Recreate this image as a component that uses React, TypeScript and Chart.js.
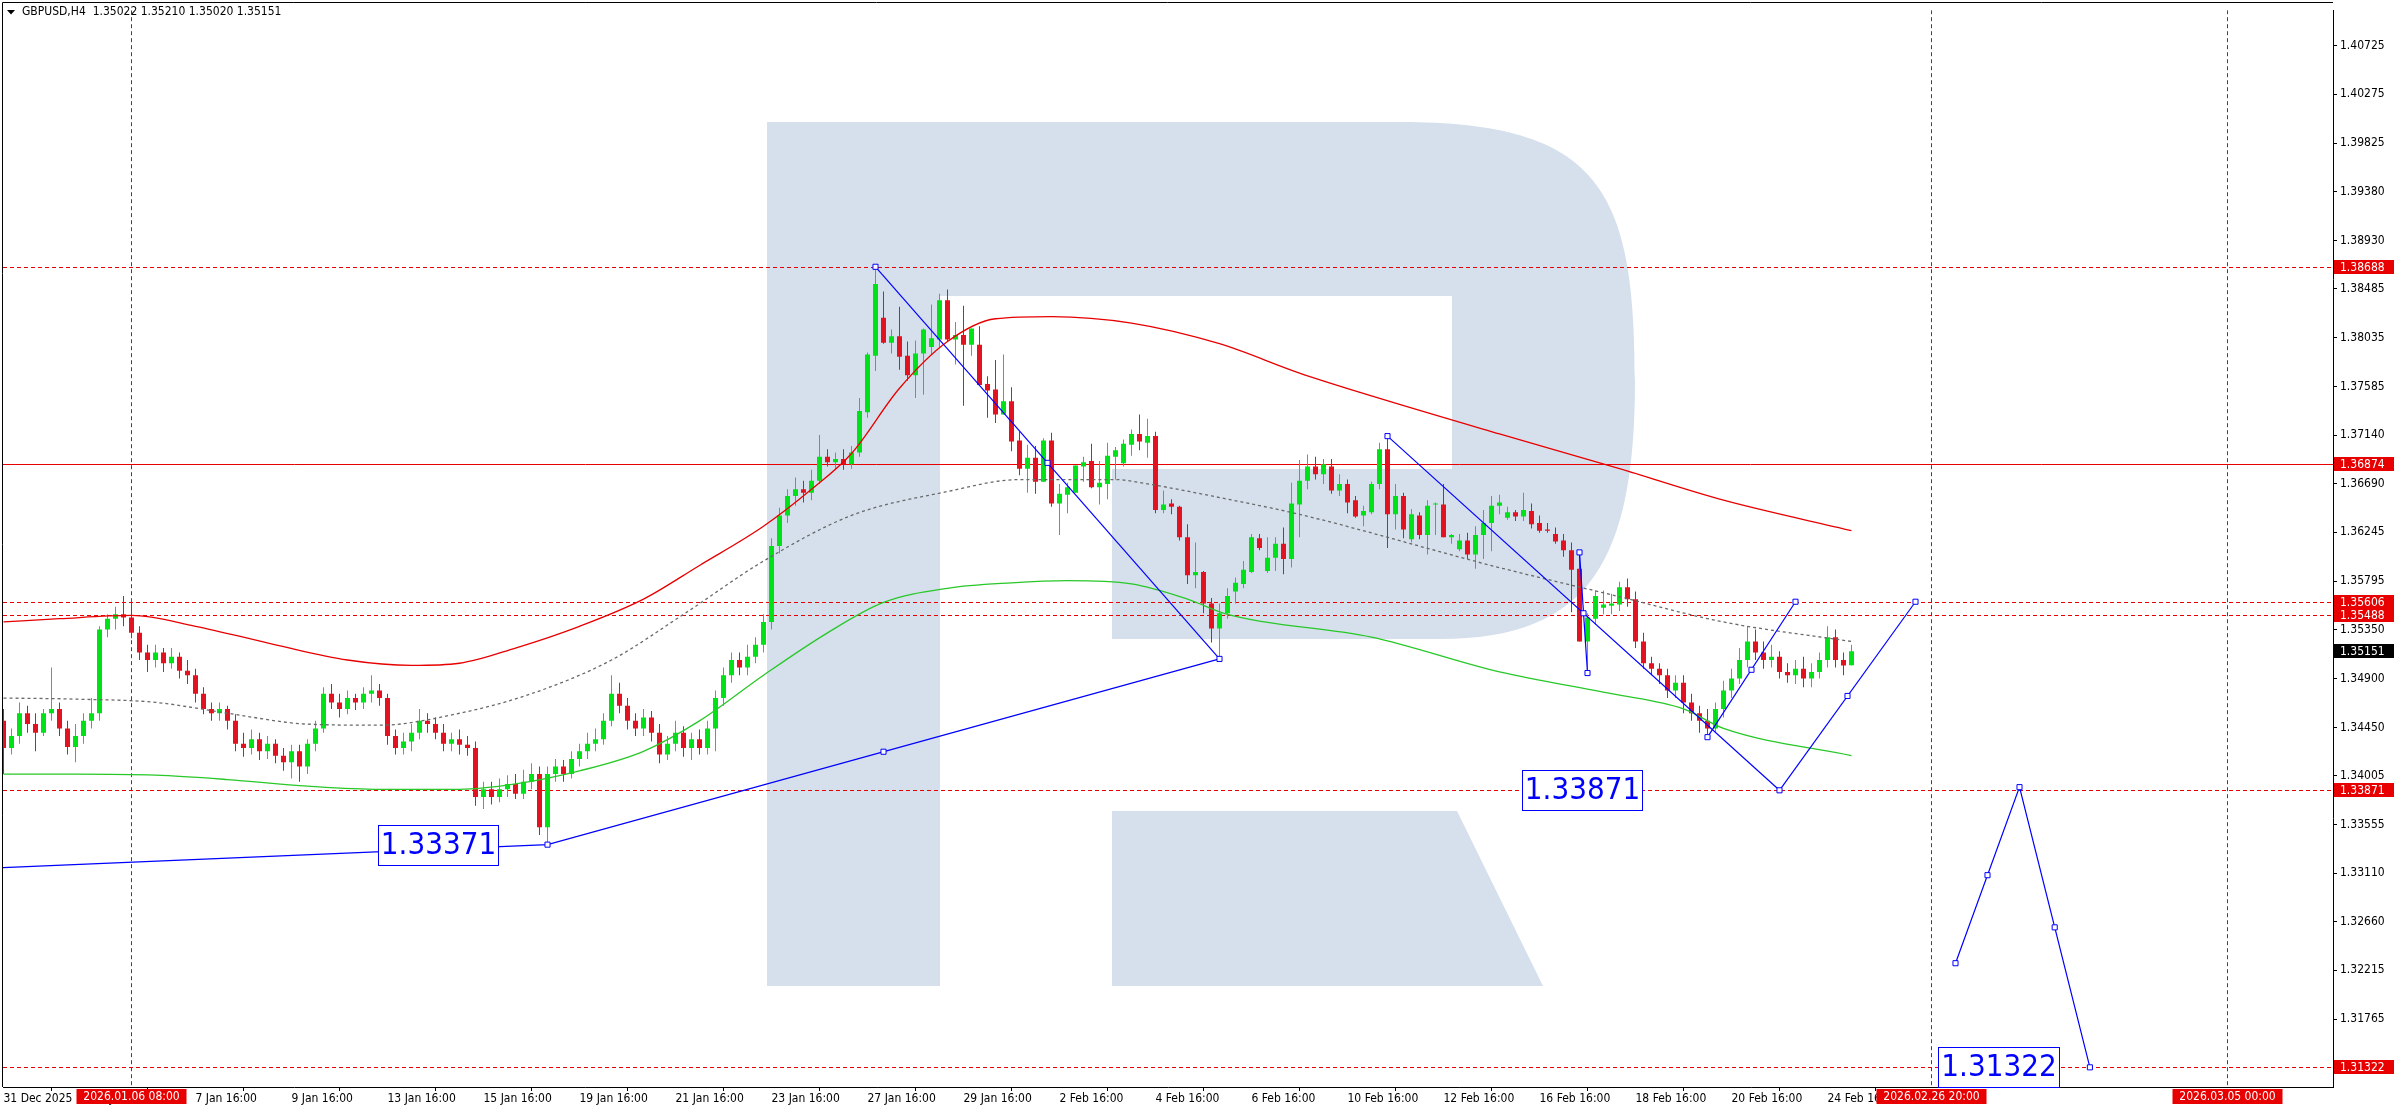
import React, { useEffect, useRef } from 'react';
import { Chart, registerables } from 'chart.js';

Chart.register(...registerables);

// ---------- DATA ----------
const opens = [
  1.3451,1.3426,1.3437,1.3458,1.3448,1.3440,1.3458,1.3462,1.3444,1.3427,1.3437,1.3451,
  1.3458,1.3535,1.3545,1.3549,1.3546,1.3532,1.3514,1.3507,1.3514,1.3504,1.3510,1.3497,
  1.3493,1.3476,1.3462,1.3458,1.3462,1.3451,1.3430,1.3426,1.3434,1.3423,1.3430,1.3419,
  1.3413,1.3423,1.3409,1.3430,1.3444,1.3476,1.3468,1.3462,1.3472,1.3468,1.3476,1.3479,
  1.3472,1.3437,1.3426,1.3432,1.3440,1.3451,1.3448,1.3440,1.3430,1.3434,1.3429,1.3426,
  1.3381,1.3388,1.3381,1.3388,1.3393,1.3384,1.3395,1.3402,1.3353,1.3402,1.3409,1.3402,
  1.3416,1.3423,1.3430,1.3434,1.3451,1.3476,1.3465,1.3451,1.3444,1.3454,1.3440,1.3420,
  1.3430,1.3440,1.3426,1.3434,1.3426,1.3444,1.3472,1.3493,1.3507,1.3500,1.3510,1.3521,
  1.3542,1.3612,1.3640,1.3658,1.3664,1.3661,
  1.3672,1.3694,1.3689,1.3692,1.3687,1.3698,1.3735,1.3787,1.3822,1.3799,1.3805,1.3787,
  1.3769,1.3789,1.3795,1.3802,1.3838,1.3802,1.3806,1.3797,1.3797,1.3761,1.3756,1.3733,
  1.3745,1.3709,1.3683,1.3693,1.3671,1.3709,1.3651,1.3659,1.3661,1.3685,1.3690,1.3666,
  1.3669,1.3694,1.3688,1.3705,1.3715,1.3707,1.3713,1.3645,1.3651,1.3648,1.3620,1.3585,
  1.3588,1.3559,1.3536,1.3550,1.3570,1.3577,1.3588,1.3619,1.3589,1.3601,1.3614,1.3600,
  1.3650,1.3672,1.3685,1.3678,1.3685,1.3663,1.3669,1.3654,1.3640,1.3643,1.3669,1.3701,
  1.3641,1.3658,1.3618,1.3640,1.3622,1.3650,1.3650,1.3620,1.3609,1.3617,1.3604,1.3622,
  1.3633,1.3649,1.3638,1.3643,1.3639,1.3644,1.3633,1.3627,1.3623,1.3617,1.3608,1.3591,
  1.3524,1.3545,1.3555,1.3557,1.3558,1.3574,1.3563,1.3524,1.3504,1.3499,1.3493,1.3479,
  1.3486,1.3468,1.3458,1.3451,1.3444,1.3462,1.3479,1.3490,1.3507,1.3524,1.3514,1.3507,
  1.3510,1.3496,1.3493,1.3499,1.3490,1.3496,1.3507,1.3528,1.3507,1.35022,
];
const highs = [
  1.3462,1.3444,1.3468,1.3465,1.3458,1.3462,1.3500,1.3468,1.3451,1.3448,1.3458,1.3472,
  1.3538,1.3549,1.3556,1.3566,1.3563,1.3538,1.3521,1.3521,1.3518,1.3518,1.3514,1.3507,
  1.3499,1.3482,1.3468,1.3468,1.3465,1.3457,1.3440,1.3443,1.3440,1.3437,1.3434,1.3426,
  1.3429,1.3429,1.3434,1.3451,1.3482,1.3485,1.3476,1.3479,1.3476,1.3482,1.3493,1.3485,
  1.3476,1.3443,1.3440,1.3448,1.3462,1.3458,1.3454,1.3448,1.3440,1.3443,1.3437,1.3432,
  1.3395,1.3395,1.3398,1.3401,1.3402,1.3406,1.3412,1.3409,1.3409,1.3416,1.3415,1.3423,
  1.3430,1.3440,1.3444,1.3458,1.3493,1.3486,1.3472,1.3458,1.3462,1.3460,1.3448,1.3437,
  1.3451,1.3446,1.3440,1.3443,1.3451,1.3479,1.3500,1.3514,1.3514,1.3521,1.3528,1.3549,
  1.3619,1.3647,1.3664,1.3675,1.3672,1.3682,
  1.3714,1.3701,1.3698,1.3701,1.3704,1.3748,1.3790,1.3867,1.3846,1.3811,1.3832,1.3800,
  1.3801,1.3812,1.3834,1.3844,1.3848,1.3818,1.3833,1.3812,1.3814,1.3768,1.3783,1.3788,
  1.3758,1.3717,1.3705,1.3704,1.3711,1.3716,1.3669,1.3670,1.3686,1.3694,1.3706,1.3690,
  1.3707,1.3703,1.3710,1.3719,1.3733,1.3729,1.3717,1.3663,1.3655,1.3649,1.3632,1.3615,
  1.3589,1.3564,1.3559,1.3573,1.3583,1.3598,1.3623,1.3623,1.3620,1.3620,1.3629,1.3670,
  1.3691,1.3696,1.3694,1.3692,1.3692,1.3678,1.3673,1.3658,1.3649,1.3671,1.3707,1.3713,
  1.3669,1.3661,1.3646,1.3643,1.3654,1.3652,1.3669,1.3623,1.3623,1.3624,1.3630,1.3645,
  1.3658,1.3659,1.3648,1.3645,1.3661,1.3651,1.3640,1.3633,1.3629,1.3623,1.3615,1.3606,
  1.3550,1.3571,1.3571,1.3568,1.3579,1.3582,1.3570,1.3532,1.3510,1.3504,1.3499,1.3493,
  1.3493,1.3476,1.3465,1.3462,1.3468,1.3488,1.3499,1.3518,1.3538,1.3535,1.3524,1.3521,
  1.3515,1.3504,1.3507,1.3510,1.3504,1.3514,1.3538,1.3535,1.3514,1.35210,
];
const lows = [
  1.3402,1.3420,1.3430,1.3440,1.3423,1.3437,1.3451,1.3437,1.3420,1.3413,1.3430,1.3444,
  1.3451,1.3528,1.3535,1.3538,1.3527,1.3507,1.3496,1.3500,1.3496,1.3499,1.3490,1.3485,
  1.3468,1.3457,1.3451,1.3451,1.3443,1.3423,1.3418,1.3420,1.3415,1.3416,1.3412,1.3405,
  1.3398,1.3395,1.3402,1.3423,1.3440,1.3462,1.3454,1.3457,1.3461,1.3462,1.3468,1.3465,
  1.3429,1.3420,1.3420,1.3423,1.3434,1.3440,1.3434,1.3423,1.3423,1.3420,1.3419,1.3373,
  1.3370,1.3374,1.3376,1.3381,1.3379,1.3379,1.3388,1.3346,1.3338,1.3395,1.3395,1.3398,
  1.3409,1.3416,1.3423,1.3429,1.3446,1.3458,1.3443,1.3437,1.3437,1.3432,1.3412,1.3415,
  1.3423,1.3418,1.3415,1.3420,1.3420,1.3423,1.3465,1.3486,1.3493,1.3493,1.3504,1.3514,
  1.3535,1.3605,1.3633,1.3649,1.3652,1.3654,
  1.3669,1.3685,1.3683,1.3682,1.3683,1.3694,1.3730,1.3773,1.3798,1.3789,1.3774,1.3764,
  1.3748,1.3751,1.3788,1.3794,1.3800,1.3779,1.3741,1.3787,1.3759,1.3730,1.3725,1.3733,
  1.3699,1.3677,1.3661,1.3660,1.3671,1.3648,1.3622,1.3642,1.3661,1.3671,1.3665,1.3650,
  1.3655,1.3673,1.3685,1.3695,1.3700,1.3693,1.3642,1.3642,1.3641,1.3617,1.3577,1.3573,
  1.3550,1.3523,1.3508,1.3545,1.3559,1.3573,1.3587,1.3608,1.3587,1.3589,1.3586,1.3592,
  1.3620,1.3664,1.3673,1.3669,1.3660,1.3658,1.3642,1.3638,1.3630,1.3641,1.3664,1.3610,
  1.3627,1.3619,1.3615,1.3618,1.3604,1.3622,1.3620,1.3614,1.3607,1.3600,1.3591,1.3600,
  1.3607,1.3641,1.3636,1.3635,1.3635,1.3628,1.3624,1.3624,1.3614,1.3602,1.3551,1.3524,
  1.3495,1.3540,1.3549,1.3549,1.3552,1.3556,1.3518,1.3499,1.3493,1.3485,1.3472,1.3472,
  1.3458,1.3451,1.3440,1.3436,1.3440,1.3454,1.3472,1.3485,1.3500,1.3507,1.3499,1.3500,
  1.3490,1.3486,1.3485,1.3482,1.3482,1.3490,1.3500,1.3500,1.3493,1.35020,
];
const closes = [
  1.3426,1.3437,1.3458,1.3448,1.3440,1.3458,1.3462,1.3444,1.3427,1.3437,1.3451,1.3458,
  1.3535,1.3545,1.3549,1.3546,1.3532,1.3514,1.3507,1.3514,1.3504,1.3510,1.3497,1.3493,
  1.3476,1.3462,1.3458,1.3462,1.3451,1.3430,1.3426,1.3434,1.3423,1.3430,1.3419,1.3413,
  1.3423,1.3409,1.3430,1.3444,1.3476,1.3468,1.3462,1.3472,1.3468,1.3476,1.3479,1.3472,
  1.3437,1.3426,1.3432,1.3440,1.3451,1.3448,1.3440,1.3430,1.3434,1.3429,1.3426,1.3381,
  1.3388,1.3381,1.3388,1.3393,1.3384,1.3395,1.3402,1.3353,1.3402,1.3409,1.3402,1.3416,
  1.3423,1.3430,1.3434,1.3451,1.3476,1.3465,1.3451,1.3444,1.3454,1.3440,1.3420,1.3430,
  1.3440,1.3426,1.3434,1.3426,1.3444,1.3472,1.3493,1.3507,1.3500,1.3510,1.3521,1.3542,
  1.3612,1.3640,1.3658,1.3664,1.3661,1.3672,
  1.3694,1.3689,1.3692,1.3687,1.3698,1.3736,1.3788,1.3853,1.3799,1.3805,1.3786,1.3769,
  1.3789,1.3811,1.3803,1.3838,1.3802,1.3806,1.3797,1.3812,1.3760,1.3755,1.3733,1.3745,
  1.3708,1.3683,1.3693,1.3671,1.3709,1.3651,1.3660,1.3666,1.3686,1.3689,1.3666,1.3670,
  1.3695,1.3700,1.3706,1.3715,1.3708,1.3713,1.3645,1.3650,1.3648,1.3620,1.3585,1.3588,
  1.3559,1.3536,1.3550,1.3566,1.3578,1.3590,1.3620,1.3610,1.3601,1.3614,1.3600,1.3651,
  1.3672,1.3685,1.3678,1.3687,1.3663,1.3669,1.3652,1.3639,1.3644,1.3669,1.3701,1.3641,
  1.3658,1.3627,1.3641,1.3622,1.3649,1.3651,1.3620,1.3622,1.3617,1.3604,1.3622,1.3633,
  1.3649,1.3652,1.3643,1.3639,1.3645,1.3632,1.3626,1.3626,1.3616,1.3608,1.3590,1.3524,
  1.3546,1.3566,1.3558,1.3559,1.3574,1.3563,1.3524,1.3504,1.3499,1.3493,1.3479,1.3486,
  1.3468,1.3458,1.3451,1.3444,1.3462,1.3479,1.3490,1.3507,1.3524,1.3514,1.3507,1.3510,
  1.3496,1.3493,1.3499,1.3490,1.3496,1.3507,1.3528,1.3507,1.3502,1.35151,
];

const timeTickIndex = [0,12,24,36,48,60,72,84,96,108,120,132,144,156,168,180,192,204,216,228];
const timeTickLabels = [
  '31 Dec 2025','5 Jan 16:00','7 Jan 16:00','9 Jan 16:00','13 Jan 16:00','15 Jan 16:00',
  '19 Jan 16:00','21 Jan 16:00','23 Jan 16:00','27 Jan 16:00','29 Jan 16:00','2 Feb 16:00',
  '4 Feb 16:00','6 Feb 16:00','10 Feb 16:00','12 Feb 16:00','16 Feb 16:00','18 Feb 16:00',
  '20 Feb 16:00','24 Feb 16:00',
];
const priceTicks = [
  1.40725,1.40275,1.39825,1.39380,1.38930,1.38485,1.38035,1.37585,1.37140,1.36690,1.36245,
  1.35795,1.35350,1.34900,1.34450,1.34005,1.33555,1.33110,1.32660,1.32215,1.31765,
];

const dashedLevels = [1.38688, 1.35606, 1.35488, 1.33871, 1.31322];
const solidLevels = [1.36874];
const bidPrice = 1.35151;
const timeMarkIndex = [16, 241, 278];
const timeMarkLabels = ['2026.01.06 08:00', '2026.02.26 20:00', '2026.03.05 00:00'];

const redMA = [
  [0,1.3542],[7,1.3545],[16,1.3548],[24,1.3538],[34,1.3521],[43,1.3507],[51,1.3502],[57,1.3504],
  [64,1.3518],[72,1.3538],[80,1.3563],[87,1.3594],[95,1.3630],[101,1.3664],[106,1.3697],[112,1.3757],
  [118,1.3800],[124,1.3821],[131,1.3823],[141,1.3817],[152,1.3798],[162,1.3771],[171,1.3750],
  [187,1.3715],[202,1.3683],[215,1.3654],[231,1.3626],
];
const greenMA = [
  [0,1.3402],[9,1.3402],[19,1.3401],[28,1.3397],[38,1.3391],[47,1.3388],[57,1.3388],[64,1.3393],
  [72,1.3405],[80,1.3423],[87,1.3451],[95,1.3493],[103,1.3532],[110,1.3560],[118,1.3573],[126,1.3578],
  [133,1.3580],[141,1.3577],[148,1.3563],[153,1.3549],[171,1.3528],[187,1.3496],[201,1.3476],
  [210,1.3462],[215,1.3444],[231,1.3419],
];
const grayMA = [
  [0,1.3472],[9,1.3471],[19,1.3468],[28,1.3458],[38,1.3448],[47,1.3447],[57,1.3458],[66,1.3476],
  [76,1.3507],[85,1.3549],[95,1.3598],[106,1.3640],[118,1.3662],[127,1.3673],[139,1.3673],
  [143,1.3669],[153,1.3655],[162,1.3641],[187,1.3592],[201,1.3567],[215,1.3542],[231,1.3524],
];

const waveLines = [
  [[-0.0625,1.3316],[68,1.33371],[152,1.3508]],
  [[109,1.38688],[152,1.3508]],
  [[173,1.3713],[222,1.33871]],
  [[197,1.3606],[198,1.3495]],
  [[213,1.3436],[224,1.35606]],
  [[222,1.33871],[239,1.35606]],
  [[244,1.3228],[252,1.3390],[260.8,1.31322]],
];
const waveMarkers = [
  [68,1.33371],[110,1.34226],[152,1.3508],[109,1.38688],[130.5,1.36884],[173,1.3713],
  [197.5,1.3550],[222,1.33871],[197,1.3606],[198,1.3495],[213,1.3436],[218.5,1.3498],
  [224,1.35606],[230.5,1.34739],[239,1.35606],[244,1.3228],[248,1.3309],[252,1.3390],
  [256.4,1.3261],[260.8,1.31322],
];
const targetTags = [
  { text: '1.33371', from: 46.75, to: 61.75, price: 1.33371 },
  { text: '1.33871', from: 189.75, to: 204.75, price: 1.33871 },
  { text: '1.31322', from: 241.75, to: 256.9, price: 1.31322 },
];
const titleText = 'GBPUSD,H4  1.35022 1.35210 1.35020 1.35151';

// ---------- STYLE ----------
const W = 2396, H = 1110;
const XMIN = -0.0625, XMAX = 291.1875;
const YMIN = 1.31141, YMAX = 1.41049;
const FAM = '"DejaVu Sans Condensed", "DejaVu Sans", sans-serif';
const UP = 'rgb(0,226,24)';
const DOWN = 'rgb(226,18,32)';
const LVL = 'rgb(232,0,0)';
const BLUE = '#0000ff';
const LOGO = 'rgb(213,224,236)';

function drawLogo(ctx: CanvasRenderingContext2D) {
  ctx.save();
  ctx.fillStyle = LOGO;
  ctx.fillRect(767, 122, 173, 864);
  ctx.beginPath();
  ctx.moveTo(940, 122);
  ctx.lineTo(1400, 122);
  ctx.bezierCurveTo(1600, 122, 1635, 190, 1635, 380);
  ctx.bezierCurveTo(1635, 560, 1590, 639, 1440, 639);
  ctx.lineTo(1112, 639);
  ctx.lineTo(1112, 469);
  ctx.lineTo(1452, 469);
  ctx.lineTo(1452, 296);
  ctx.lineTo(940, 296);
  ctx.closePath();
  ctx.fill();
  ctx.beginPath();
  ctx.moveTo(1112, 811);
  ctx.lineTo(1457, 811);
  ctx.lineTo(1543, 986);
  ctx.lineTo(1112, 986);
  ctx.closePath();
  ctx.fill();
  ctx.restore();
}

export default function App() {
  const ref = useRef<HTMLCanvasElement>(null);
  useEffect(() => {
    document.body.style.margin = '0';
    const canvas = ref.current!;
    const isUp = (i: number) => closes[i] >= opens[i];

    const overlay = {
      id: 'overlay',
      beforeDatasetsDraw(chart: any) {
        const { ctx, chartArea: a, scales } = chart;
        const x = scales.x, y = scales.y;
        ctx.save();
        ctx.beginPath();
        ctx.rect(a.left, a.top, a.right - a.left, a.bottom - a.top);
        ctx.clip();
        drawLogo(ctx);
        ctx.lineWidth = 1;
        ctx.strokeStyle = LVL;
        ctx.setLineDash([4, 3]);
        for (const p of dashedLevels) {
          const py = Math.round(y.getPixelForValue(p)) + 0.5;
          ctx.beginPath(); ctx.moveTo(a.left, py); ctx.lineTo(a.right, py); ctx.stroke();
        }
        for (const t of timeMarkIndex) {
          const px = Math.floor(x.getPixelForValue(t)) + 0.5;
          ctx.beginPath(); ctx.moveTo(px, a.top); ctx.lineTo(px, a.bottom); ctx.stroke();
        }
        ctx.setLineDash([]);
        for (const p of solidLevels) {
          const py = Math.round(y.getPixelForValue(p)) + 0.5;
          ctx.beginPath(); ctx.moveTo(a.left, py); ctx.lineTo(a.right, py); ctx.stroke();
        }
        ctx.restore();
      },
      afterDraw(chart: any) {
        const { ctx, chartArea: a, scales } = chart;
        const x = scales.x, y = scales.y;
        ctx.save();
        ctx.strokeStyle = '#000';
        ctx.lineWidth = 1;
        ctx.beginPath();
        ctx.moveTo(2.5, a.bottom); ctx.lineTo(2.5, 2.5); ctx.lineTo(a.right, 2.5);
        ctx.stroke();
        ctx.font = `31px ${FAM}`;
        ctx.textAlign = 'center';
        ctx.textBaseline = 'middle';
        for (const t of targetTags) {
          const x0 = Math.round(x.getPixelForValue(t.from)) + 0.5;
          const x1 = Math.round(x.getPixelForValue(t.to)) + 0.5;
          const cy = y.getPixelForValue(t.price);
          const y0 = Math.round(cy - 20) + 0.5;
          ctx.fillStyle = '#fff';
          ctx.fillRect(x0, y0, x1 - x0, 40);
          ctx.strokeStyle = BLUE;
          ctx.strokeRect(x0, y0, x1 - x0, 40);
          ctx.fillStyle = BLUE;
          ctx.fillText(t.text, (x0 + x1) / 2, cy + 1);
        }
        ctx.fillStyle = '#000';
        ctx.beginPath();
        ctx.moveTo(7, 10); ctx.lineTo(15, 10); ctx.lineTo(11, 14.5); ctx.closePath(); ctx.fill();
        ctx.font = `12px ${FAM}`;
        ctx.textAlign = 'left';
        ctx.fillText(titleText, 22, 12);
        const tags = [
          ...dashedLevels.map((p) => ({ p, bg: LVL })),
          ...solidLevels.map((p) => ({ p, bg: LVL })),
          { p: bidPrice, bg: '#000' },
        ];
        for (const t of tags) {
          const py = Math.round(y.getPixelForValue(t.p));
          ctx.fillStyle = t.bg;
          ctx.fillRect(a.right + 1, py - 7, W - a.right - 3, 14);
          ctx.fillStyle = '#fff';
          ctx.textAlign = 'left';
          ctx.fillText(t.p.toFixed(5), a.right + 7, py + 0.5);
        }
        ctx.textAlign = 'center';
        for (let k = 0; k < timeMarkIndex.length; k++) {
          const px = Math.floor(x.getPixelForValue(timeMarkIndex[k])) + 0.5;
          ctx.fillStyle = LVL;
          ctx.fillRect(px - 55, a.bottom + 2, 110, 15);
          ctx.fillStyle = '#fff';
          ctx.fillText(timeMarkLabels[k], px, a.bottom + 10);
        }
        ctx.restore();
      },
    };

    const lineDs = (pts: number[][], color: string, dash: number[] = [], width = 1.3, order = 3) => ({
      type: 'line',
      data: pts.map(([px, py]) => ({ x: px, y: py })),
      borderColor: color,
      borderWidth: width,
      borderDash: dash,
      pointRadius: 0,
      cubicInterpolationMode: 'monotone',
      order,
    });

    const chart = new Chart(canvas, {
      type: 'bar',
      data: {
        datasets: [
          {
            type: 'bar',
            data: closes.map((_, i) => ({ x: i, y: [lows[i], highs[i]] })),
            backgroundColor: (c: any) => (isUp(c.dataIndex) ? UP : DOWN),
            barThickness: 1,
            grouped: false,
            borderWidth: 0,
            inflateAmount: 0,
            order: 6,
          },
          {
            type: 'bar',
            data: closes.map((_, i) => ({ x: i, y: [opens[i], closes[i]] })),
            backgroundColor: (c: any) => (isUp(c.dataIndex) ? UP : DOWN),
            barThickness: 5,
            minBarLength: 1,
            grouped: false,
            borderWidth: 0,
            inflateAmount: 0,
            order: 5,
          },
          lineDs(redMA, 'rgb(232,0,0)'),
          lineDs(greenMA, 'rgb(40,200,40)'),
          lineDs(grayMA, 'rgb(105,105,105)', [3, 3]),
          ...waveLines.map((l) => ({
            type: 'line',
            data: l.map(([px, py]) => ({ x: px, y: py })),
            borderColor: BLUE,
            borderWidth: 1.2,
            pointRadius: 0,
            tension: 0,
            order: 2,
          })),
          {
            type: 'line',
            data: waveMarkers.map(([px, py]) => ({ x: px, y: py })),
            showLine: false,
            pointStyle: 'rect',
            pointRadius: 3.6,
            pointBorderColor: BLUE,
            pointBackgroundColor: '#fff',
            pointBorderWidth: 1,
            order: 1,
          },
        ] as any,
      },
      options: {
        responsive: false,
        animation: false,
        devicePixelRatio: 1,
        layout: { padding: { left: 3, top: 3, right: 0, bottom: 0 }, autoPadding: false },
        plugins: { legend: { display: false }, tooltip: { enabled: false }, title: { display: false } },
        scales: {
          x: {
            type: 'linear',
            position: 'bottom',
            min: XMIN,
            max: XMAX,
            offset: false,
            grid: { display: true, drawOnChartArea: false, drawTicks: true, tickLength: 4, color: '#000', tickColor: '#000' },
            border: { display: true, color: '#000', width: 1 },
            ticks: {
              autoSkip: false,
              maxRotation: 0,
              minRotation: 0,
              align: 'start',
              padding: 1,
              color: '#000',
              font: { size: 12, family: FAM },
              callback: (v: any) => {
                const k = timeTickIndex.indexOf(Number(v));
                return k >= 0 ? timeTickLabels[k] : '';
              },
            },
            afterBuildTicks: (s: any) => { s.ticks = timeTickIndex.map((v) => ({ value: v })); },
            afterFit: (s: any) => { s.height = 23; },
          },
          y: {
            type: 'linear',
            position: 'right',
            min: YMIN,
            max: YMAX,
            grid: { display: true, drawOnChartArea: false, drawTicks: true, tickLength: 4, color: '#000', tickColor: '#000' },
            border: { display: true, color: '#000', width: 1 },
            ticks: {
              autoSkip: false,
              padding: 3,
              color: '#000',
              font: { size: 12, family: FAM },
              callback: (v: any) => Number(v).toFixed(5),
            },
            afterBuildTicks: (s: any) => { s.ticks = priceTicks.map((v) => ({ value: v })); },
            afterFit: (s: any) => { s.width = 63; },
          },
        },
      } as any,
      plugins: [overlay],
    });
    return () => chart.destroy();
  }, []);

  return (
    <div style={{ width: W, height: H, overflow: 'hidden', background: '#fff' }}>
      <canvas ref={ref} width={W} height={H} style={{ display: 'block', width: W, height: H }} />
    </div>
  );
}
